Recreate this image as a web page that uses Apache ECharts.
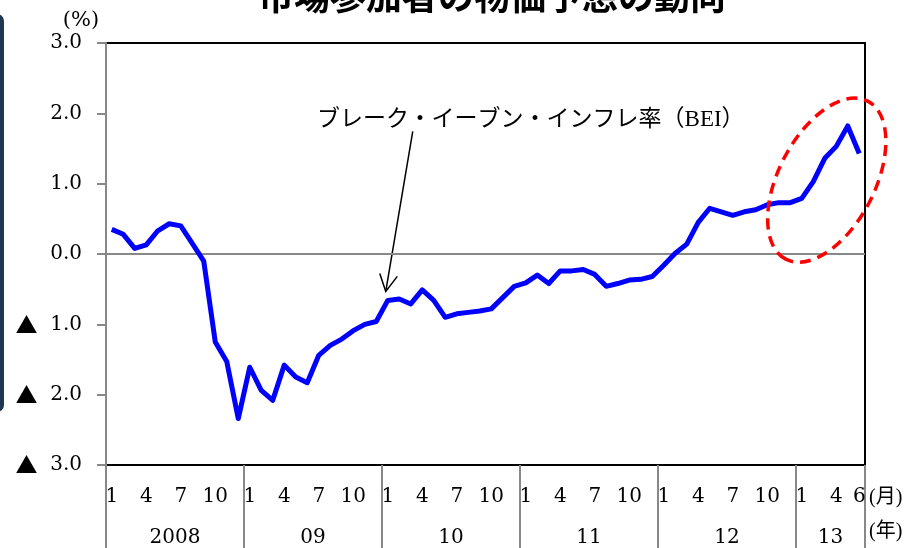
<!DOCTYPE html>
<html>
<head>
<meta charset="utf-8">
<script src="https://cdn.jsdelivr.net/npm/echarts@6/dist/echarts.min.js"></script>
<style>
html,body{margin:0;padding:0;background:#fff;}
#chart{width:913px;height:548px;}
</style>
</head>
<body>
<div id="chart"></div>
<script>
// ---- data ----
var titleText = '市場参加者の物価予想の動向';
var seriesName = 'ブレーク・イーブン・インフレ率（BEI）';
var yearLabels = ['2008', '09', '10', '11', '12', '13'];
var monthsPerYear = [12, 12, 12, 12, 12, 6];
var monthTickLabels = ['1', '4', '7', '10'];
var yTicks = [-3, -2, -1, 0, 1, 2, 3];
var bei2008 = [0.35, 0.28, 0.08, 0.13, 0.33, 0.43, 0.40, 0.15, -0.10, -1.25, -1.53, -2.34];
var bei2009 = [-1.61, -1.94, -2.08, -1.58, -1.75, -1.83, -1.44, -1.30, -1.21, -1.09, -1.00, -0.96];
var bei2010 = [-0.66, -0.64, -0.71, -0.51, -0.66, -0.90, -0.85, -0.83, -0.81, -0.78, -0.62, -0.46];
var bei2011 = [-0.41, -0.30, -0.42, -0.24, -0.24, -0.22, -0.29, -0.46, -0.42, -0.37, -0.36, -0.32];
var bei2012 = [-0.16, 0.01, 0.14, 0.45, 0.65, 0.60, 0.55, 0.60, 0.63, 0.70, 0.73, 0.73];
var bei2013 = [0.79, 1.03, 1.36, 1.53, 1.82, 1.43];

// ---- build ----
var bei = [].concat(bei2008, bei2009, bei2010, bei2011, bei2012, bei2013);
var categories = [];
var yearStarts = [0];
var yearCenters = [];
var acc = 0;
for (var i = 0; i < yearLabels.length; i++) {
  for (var m = 1; m <= monthsPerYear[i]; m++) categories.push(String(m));
  yearCenters.push(acc + monthsPerYear[i] / 2);
  acc += monthsPerYear[i];
  yearStarts.push(acc);
}
var total = categories.length;

var serif = '"DejaVu Serif", "Noto Sans CJK JP", serif';
var lserif = '"Liberation Serif", "Noto Sans CJK JP", serif';
var jp = '"Noto Sans CJK JP", sans-serif';

var chart = echarts.init(document.getElementById('chart'), null, {renderer: 'canvas'});

var option = {
  animation: false,
  backgroundColor: '#ffffff',
  grid: {left: 106, right: 48, top: 43, bottom: 83, show: true, borderColor: '#000', borderWidth: 2, backgroundColor: 'transparent'},
  xAxis: [{
    type: 'category',
    data: categories,
    boundaryGap: true,
    position: 'bottom',
    axisLine: {show: true, lineStyle: {color: '#000', width: 2}},
    axisTick: {show: false},
    axisLabel: {
      interval: function (idx, val) {
        return monthTickLabels.indexOf(val) >= 0 && (idx % 12) % 3 === 0 || idx === total - 1;
      },
      color: '#000', fontFamily: serif, fontSize: 20, margin: 22, hideOverlap: false
    },
    splitLine: {show: false}
  }, {
    type: 'value',
    min: 0, max: total,
    position: 'bottom',
    axisLine: {show: false},
    axisTick: {show: true, customValues: yearStarts, length: 83, inside: false, lineStyle: {color: '#888', width: 2}},
    axisLabel: {
      show: true, customValues: yearCenters, color: '#000', fontFamily: serif, fontSize: 20, margin: 63,
      formatter: function (v) { var k = yearCenters.indexOf(v); return k >= 0 ? yearLabels[k] : ''; }
    },
    splitLine: {show: false}
  }],
  yAxis: {
    type: 'value',
    min: yTicks[0], max: yTicks[yTicks.length - 1], interval: 1,
    axisLine: {show: true, lineStyle: {color: '#888', width: 2}},
    axisTick: {show: true, length: 9, lineStyle: {color: '#888', width: 2}},
    axisLabel: {
      color: '#000', fontFamily: serif, fontSize: 20, margin: 24,
      formatter: function (v) { return v < 0 ? '{t|▲}  ' + (-v).toFixed(1) : v.toFixed(1); },
      rich: {t: {fontFamily: jp, fontSize: 22, color: '#000'}}
    },
    splitLine: {show: false}
  },
  series: [{
    name: seriesName,
    type: 'line',
    data: bei,
    xAxisIndex: 0,
    showSymbol: false,
    symbol: 'none',
    lineStyle: {color: '#0000ff', width: 5, join: 'round'},
    z: 5,
    markLine: {
      silent: true, symbol: 'none', label: {show: false},
      lineStyle: {color: '#888', width: 2, type: 'solid'},
      data: [{yAxis: 0}],
      z: 2
    }
  }]
};
chart.setOption(option);

// ---- annotations ----
var tip = chart.convertToPixel({xAxisIndex: 0, yAxisIndex: 0}, [24, bei[24]]);
tip = [tip[0] - 2, tip[1] - 9];
var tail = [tip[0] + 27, tip[1] - 160];
var dx = tail[0] - tip[0], dy = tail[1] - tip[1];
var len = Math.sqrt(dx * dx + dy * dy);
var ux = dx / len, uy = dy / len;
var wing = 19, ang = 28 * Math.PI / 180;
function rot(x, y, a) { return [x * Math.cos(a) - y * Math.sin(a), x * Math.sin(a) + y * Math.cos(a)]; }
var w1 = rot(ux, uy, ang), w2 = rot(ux, uy, -ang);

var ellC = chart.convertToPixel({xAxisIndex: 0, yAxisIndex: 0}, [62, 1.05]);

chart.setOption({
  graphic: [
    {type: 'rect', shape: {x: -12, y: 14, width: 16, height: 398, r: 7}, style: {fill: '#1f3750'}},
    {type: 'text', x: 492, y: -4, style: {text: titleText, font: 'bold 36px ' + jp, fill: '#000', textAlign: 'center', textVerticalAlign: 'middle'}},
    {type: 'text', x: 81, y: 21, style: {text: '(%)', font: '21px ' + serif, fill: '#000', textAlign: 'center', textVerticalAlign: 'middle'}},
    {type: 'text', x: 869, y: 498, style: {text: '(月)', font: '20px ' + lserif, fill: '#000', textAlign: 'left', textVerticalAlign: 'middle'}},
    {type: 'text', x: 869, y: 532, style: {text: '(年)', font: '20px ' + lserif, fill: '#000', textAlign: 'left', textVerticalAlign: 'middle'}},
    {type: 'text', x: 317, y: 120, style: {text: seriesName, font: '23px ' + lserif, fill: '#000', textAlign: 'left', textVerticalAlign: 'middle'}},
    {type: 'line', shape: {x1: tip[0], y1: tip[1], x2: tail[0], y2: tail[1]}, style: {stroke: '#000', lineWidth: 1.5}},
    {type: 'polyline', shape: {points: [[tip[0] + w1[0] * wing, tip[1] + w1[1] * wing], tip, [tip[0] + w2[0] * wing, tip[1] + w2[1] * wing]]}, style: {stroke: '#000', lineWidth: 1.5, fill: null}},
    {type: 'ellipse', x: ellC[0] + 2, y: ellC[1], rotation: 62.6 * Math.PI / 180, shape: {cx: 0, cy: 0, rx: 89, ry: 48}, style: {stroke: '#ff0000', lineWidth: 3.5, fill: null, lineDash: [11, 7]}, z: 10}
  ]
});
</script>
</body>
</html>
